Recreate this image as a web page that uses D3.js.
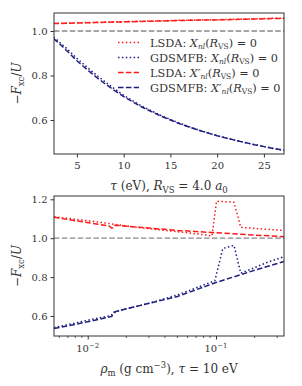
<!DOCTYPE html>
<html>
<head>
<meta charset="utf-8">
<script src="https://cdn.jsdelivr.net/npm/d3@7"></script>
<style>
  body { margin: 0; background: #fff; }
  svg { font-family: "DejaVu Serif", serif; }
  .axis path, .axis line { stroke: #333; }
  .axis text { fill: #333; font-size: 10px; font-family: "DejaVu Serif", serif; }
</style>
</head>
<body>
<div id="chart"></div>
<script>
// top panel: scan over tau at fixed R_VS
var tauVals = [2.5, 3, 4, 5, 6, 7, 8, 9, 10, 12, 14, 16, 18, 20, 22, 24, 26, 27.2];
var topLsdaX = [1.035, 1.035, 1.036, 1.037, 1.038, 1.039, 1.040, 1.041, 1.042, 1.044, 1.046, 1.048, 1.050, 1.051, 1.053, 1.055, 1.057, 1.058];
var topLsdaXp = [1.034, 1.034, 1.035, 1.036, 1.037, 1.038, 1.039, 1.040, 1.041, 1.043, 1.045, 1.047, 1.049, 1.050, 1.052, 1.054, 1.056, 1.057];
var topGdsX = [0.972, 0.955, 0.918, 0.877, 0.840, 0.805, 0.772, 0.741, 0.711, 0.661, 0.620, 0.585, 0.555, 0.529, 0.508, 0.489, 0.472, 0.463];
var topGdsXp = [0.966, 0.948, 0.908, 0.866, 0.830, 0.795, 0.763, 0.733, 0.705, 0.657, 0.617, 0.583, 0.554, 0.529, 0.508, 0.489, 0.472, 0.463];

// bottom panel: scan over density at fixed tau
var rhoLsdaX = [0.00546, 0.01, 0.016, 0.025, 0.04, 0.06, 0.08, 0.093, 0.101, 0.138, 0.156, 0.25, 0.339];
var botLsdaX = [1.110, 1.090, 1.072, 1.055, 1.040, 1.028, 1.018, 1.012, 1.190, 1.185, 1.056, 1.045, 1.040];
var rhoLsdaXp = [0.00546, 0.008, 0.012, 0.0148, 0.0153, 0.0158, 0.0163, 0.02, 0.03, 0.05, 0.08, 0.1, 0.15, 0.2, 0.339];
var botLsdaXp = [1.108, 1.090, 1.072, 1.062, 1.052, 1.053, 1.067, 1.062, 1.052, 1.040, 1.032, 1.028, 1.021, 1.016, 1.008];
var rhoGdsX = [0.00546, 0.01, 0.015, 0.017, 0.03, 0.05, 0.098, 0.113, 0.138, 0.156, 0.25, 0.339];
var botGdsX = [0.540, 0.578, 0.602, 0.625, 0.665, 0.708, 0.781, 0.947, 0.963, 0.820, 0.875, 0.905];
var rhoGdsXp = [0.00546, 0.01, 0.0154, 0.016, 0.02, 0.05, 0.1, 0.2, 0.339];
var botGdsXp = [0.535, 0.570, 0.598, 0.620, 0.637, 0.700, 0.772, 0.835, 0.880];

var topXTicks = [5, 10, 15, 20, 25];
var topYTicks = [0.6, 0.8, 1.0];
var botXTicks = [0.01, 0.1];
var botYTicks = [0.6, 0.8, 1.0, 1.2];

var legendLabels = [
  { name: "LSDA: ", sym: "X" },
  { name: "GDSMFB: ", sym: "X" },
  { name: "LSDA: ", sym: "X\u2032" },
  { name: "GDSMFB: ", sym: "X\u2032" }
];

var RED = "#ff1a1a", BLUE = "#1f1f80";
var DOT = "1.5,2.4", DASH = "5.5,2.4";

var width = 302, height = 386;
var svg = d3.select("#chart").append("svg")
  .attr("width", width).attr("height", height);

function zip(xs, ys) {
  return xs.map(function (x, i) { return [x, ys[i]]; });
}

function drawPanel(p) {
  var g = svg.append("g");
  var x = p.x, y = p.y;

  g.append("clipPath").attr("id", p.id)
    .append("rect")
    .attr("x", p.left).attr("y", p.top)
    .attr("width", p.right - p.left).attr("height", p.bottom - p.top);

  var plot = g.append("g").attr("clip-path", "url(#" + p.id + ")");

  // reference line at 1
  plot.append("line")
    .attr("x1", p.left).attr("x2", p.right)
    .attr("y1", y(1)).attr("y2", y(1))
    .attr("stroke", "#888").attr("stroke-width", 1.3)
    .attr("stroke-dasharray", "5.5,2.4");

  var line = d3.line()
    .x(function (d) { return x(d[0]); })
    .y(function (d) { return y(d[1]); });

  p.series.forEach(function (s) {
    plot.append("path")
      .datum(s.data)
      .attr("d", line)
      .attr("fill", "none")
      .attr("stroke", s.color)
      .attr("stroke-width", 1.5)
      .attr("stroke-dasharray", s.dash);
  });

  // axes
  var xAxis = g.append("g").attr("class", "axis")
    .attr("transform", "translate(0," + p.bottom + ")")
    .call(p.xAxis);
  var yAxis = g.append("g").attr("class", "axis")
    .attr("transform", "translate(" + p.left + ",0)")
    .call(d3.axisLeft(y).tickValues(p.yTicks).tickFormat(d3.format(".1f")).tickSize(3.5).tickPadding(3));
  xAxis.select(".domain").remove();
  yAxis.select(".domain").remove();

  // frame
  g.append("rect")
    .attr("x", p.left).attr("y", p.top)
    .attr("width", p.right - p.left).attr("height", p.bottom - p.top)
    .attr("fill", "none").attr("stroke", "#333").attr("stroke-width", 1);

  // y label
  var yl = g.append("text")
    .attr("transform", "translate(21," + ((p.top + p.bottom) / 2) + ") rotate(-90)")
    .attr("text-anchor", "middle")
    .attr("font-size", 12).attr("fill", "#333");
  yl.append("tspan").text("\u2212");
  yl.append("tspan").attr("font-style", "italic").text("F");
  yl.append("tspan").attr("font-size", 8.5).attr("dy", 3).text("xc");
  yl.append("tspan").attr("dy", -3).text("/");
  yl.append("tspan").attr("font-style", "italic").text("U");

  return g;
}

// ---- top panel
var topX = d3.scaleLinear().domain([2.55, 27.15]).range([54, 284]);
var topY = d3.scaleLinear().domain([0.447, 1.081]).range([154, 13]);

drawPanel({
  id: "clipTop", left: 54, right: 284, top: 13, bottom: 154,
  x: topX, y: topY, yTicks: topYTicks,
  xAxis: d3.axisBottom(topX).tickValues(topXTicks).tickSize(3.5).tickPadding(4),
  series: [
    { data: zip(tauVals, topLsdaX), color: RED, dash: DOT },
    { data: zip(tauVals, topGdsX), color: BLUE, dash: DOT },
    { data: zip(tauVals, topLsdaXp), color: RED, dash: DASH },
    { data: zip(tauVals, topGdsXp), color: BLUE, dash: DASH }
  ]
});

var tx = svg.append("text")
  .attr("x", 169).attr("y", 190)
  .attr("text-anchor", "middle").attr("font-size", 12).attr("fill", "#333");
tx.append("tspan").attr("font-style", "italic").text("\u03c4");
tx.append("tspan").text(" (eV),  ");
tx.append("tspan").attr("font-style", "italic").text("R");
tx.append("tspan").attr("font-size", 8.5).attr("dy", 3).text("VS");
tx.append("tspan").attr("dy", -3).text(" = 4.0 ");
tx.append("tspan").attr("font-style", "italic").text("a");
tx.append("tspan").attr("font-size", 8.5).attr("dy", 3).text("0");

// legend
var legend = svg.append("g").attr("transform", "translate(118,42.5)");
var legendStyles = [[RED, DOT], [BLUE, DOT], [RED, DASH], [BLUE, DASH]];
legendLabels.forEach(function (l, i) {
  var row = legend.append("g").attr("transform", "translate(0," + (i * 15) + ")");
  row.append("line")
    .attr("x1", 0).attr("x2", 21).attr("y1", 0).attr("y2", 0)
    .attr("stroke", legendStyles[i][0]).attr("stroke-width", 1.5)
    .attr("stroke-dasharray", legendStyles[i][1]);
  var t = row.append("text").attr("x", 32).attr("y", 4)
    .attr("font-size", 11.3).attr("fill", "#333");
  t.append("tspan").text(l.name);
  t.append("tspan").attr("font-style", "italic").text(l.sym);
  t.append("tspan").attr("font-size", 7.5).attr("font-style", "italic").attr("dy", 2.5).text("nl");
  t.append("tspan").attr("dy", -2.5).text("(");
  t.append("tspan").attr("font-style", "italic").text("R");
  t.append("tspan").attr("font-size", 7.5).attr("dy", 2.5).text("VS");
  t.append("tspan").attr("dy", -2.5).text(") = 0");
});

// ---- bottom panel
var botX = d3.scaleLog().domain([0.00546, 0.339]).range([54, 284]);
var botY = d3.scaleLinear().domain([0.497, 1.217]).range([336, 196]);

var minor = [];
[0.001, 0.01, 0.1].forEach(function (dec) {
  for (var k = 2; k <= 9; k++) {
    var v = dec * k;
    if (v >= 0.00546 && v <= 0.339) minor.push(v);
  }
});

var bot = drawPanel({
  id: "clipBot", left: 54, right: 284, top: 196, bottom: 336,
  x: botX, y: botY, yTicks: botYTicks,
  xAxis: d3.axisBottom(botX).tickValues(botXTicks).tickFormat(function () { return ""; }).tickSize(3.5),
  series: [
    { data: zip(rhoLsdaX, botLsdaX), color: RED, dash: DOT },
    { data: zip(rhoGdsX, botGdsX), color: BLUE, dash: DOT },
    { data: zip(rhoLsdaXp, botLsdaXp), color: RED, dash: DASH },
    { data: zip(rhoGdsXp, botGdsXp), color: BLUE, dash: DASH }
  ]
});

bot.selectAll(".minor").data(minor).enter().append("line")
  .attr("class", "minor")
  .attr("x1", function (d) { return botX(d); }).attr("x2", function (d) { return botX(d); })
  .attr("y1", 336).attr("y2", 338)
  .attr("stroke", "#333").attr("stroke-width", 0.8);

botXTicks.forEach(function (v) {
  var t = bot.append("text")
    .attr("x", botX(v)).attr("y", 352)
    .attr("text-anchor", "middle").attr("font-size", 10).attr("fill", "#333");
  t.append("tspan").text("10");
  t.append("tspan").attr("font-size", 7).attr("dy", -4.5).text("\u2212" + Math.round(-Math.log10(v)));
});

var bx = svg.append("text")
  .attr("x", 169).attr("y", 373)
  .attr("text-anchor", "middle").attr("font-size", 12).attr("fill", "#333");
bx.append("tspan").attr("font-style", "italic").text("\u03c1");
bx.append("tspan").attr("font-size", 8.5).attr("dy", 3).text("m");
bx.append("tspan").attr("dy", -3).text(" (g cm");
bx.append("tspan").attr("font-size", 8.5).attr("dy", -5).text("\u22123");
bx.append("tspan").attr("dy", 5).text("),  ");
bx.append("tspan").attr("font-style", "italic").text("\u03c4");
bx.append("tspan").text(" = 10 eV");
</script>
</body>
</html>
